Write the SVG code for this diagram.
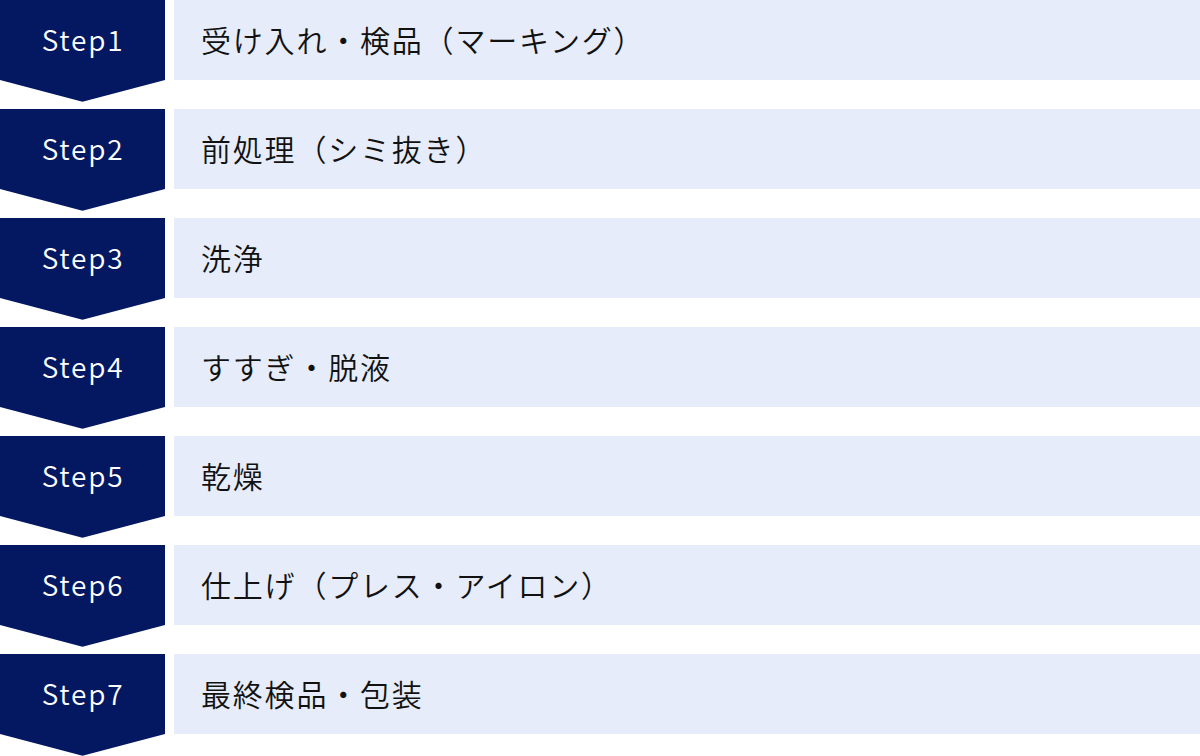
<svg xmlns="http://www.w3.org/2000/svg" width="1200" height="756" viewBox="0 0 1200 756">
<style>
.chev{fill:#041862}
.box{fill:#E6ECF9}
.st{font-family:"Noto Sans CJK JP","Noto Sans",sans-serif;font-size:28px;font-weight:350;fill:#ffffff;letter-spacing:1.8px;text-anchor:middle}
.lb{font-family:"Noto Sans CJK JP","Noto Sans",sans-serif;font-size:30px;font-weight:350;fill:#111111;letter-spacing:1.8px}
</style>
<defs>
<path id="chv" d="M0 0H165V80L82.5 101.7L0 80Z"/>
</defs>
<g id="connectors"></g>
<g id="step1" transform="translate(0,0)"><use href="#chv" class="chev"/><rect class="box" x="174" y="0" width="1026" height="80"/><text class="st" x="83" y="50.5">Step1</text><text class="lb" x="201" y="52">受け入れ・検品（マーキング）</text></g>
<g id="step2" transform="translate(0,109)"><use href="#chv" class="chev"/><rect class="box" x="174" y="0" width="1026" height="80"/><text class="st" x="83" y="50.5">Step2</text><text class="lb" x="201" y="52">前処理（シミ抜き）</text></g>
<g id="step3" transform="translate(0,218)"><use href="#chv" class="chev"/><rect class="box" x="174" y="0" width="1026" height="80"/><text class="st" x="83" y="50.5">Step3</text><text class="lb" x="201" y="52">洗浄</text></g>
<g id="step4" transform="translate(0,327)"><use href="#chv" class="chev"/><rect class="box" x="174" y="0" width="1026" height="80"/><text class="st" x="83" y="50.5">Step4</text><text class="lb" x="201" y="52">すすぎ・脱液</text></g>
<g id="step5" transform="translate(0,436)"><use href="#chv" class="chev"/><rect class="box" x="174" y="0" width="1026" height="80"/><text class="st" x="83" y="50.5">Step5</text><text class="lb" x="201" y="52">乾燥</text></g>
<g id="step6" transform="translate(0,545)"><use href="#chv" class="chev"/><rect class="box" x="174" y="0" width="1026" height="80"/><text class="st" x="83" y="50.5">Step6</text><text class="lb" x="201" y="52">仕上げ（プレス・アイロン）</text></g>
<g id="step7" transform="translate(0,654)"><use href="#chv" class="chev"/><rect class="box" x="174" y="0" width="1026" height="80"/><text class="st" x="83" y="50.5">Step7</text><text class="lb" x="201" y="52">最終検品・包装</text></g>
</svg>
